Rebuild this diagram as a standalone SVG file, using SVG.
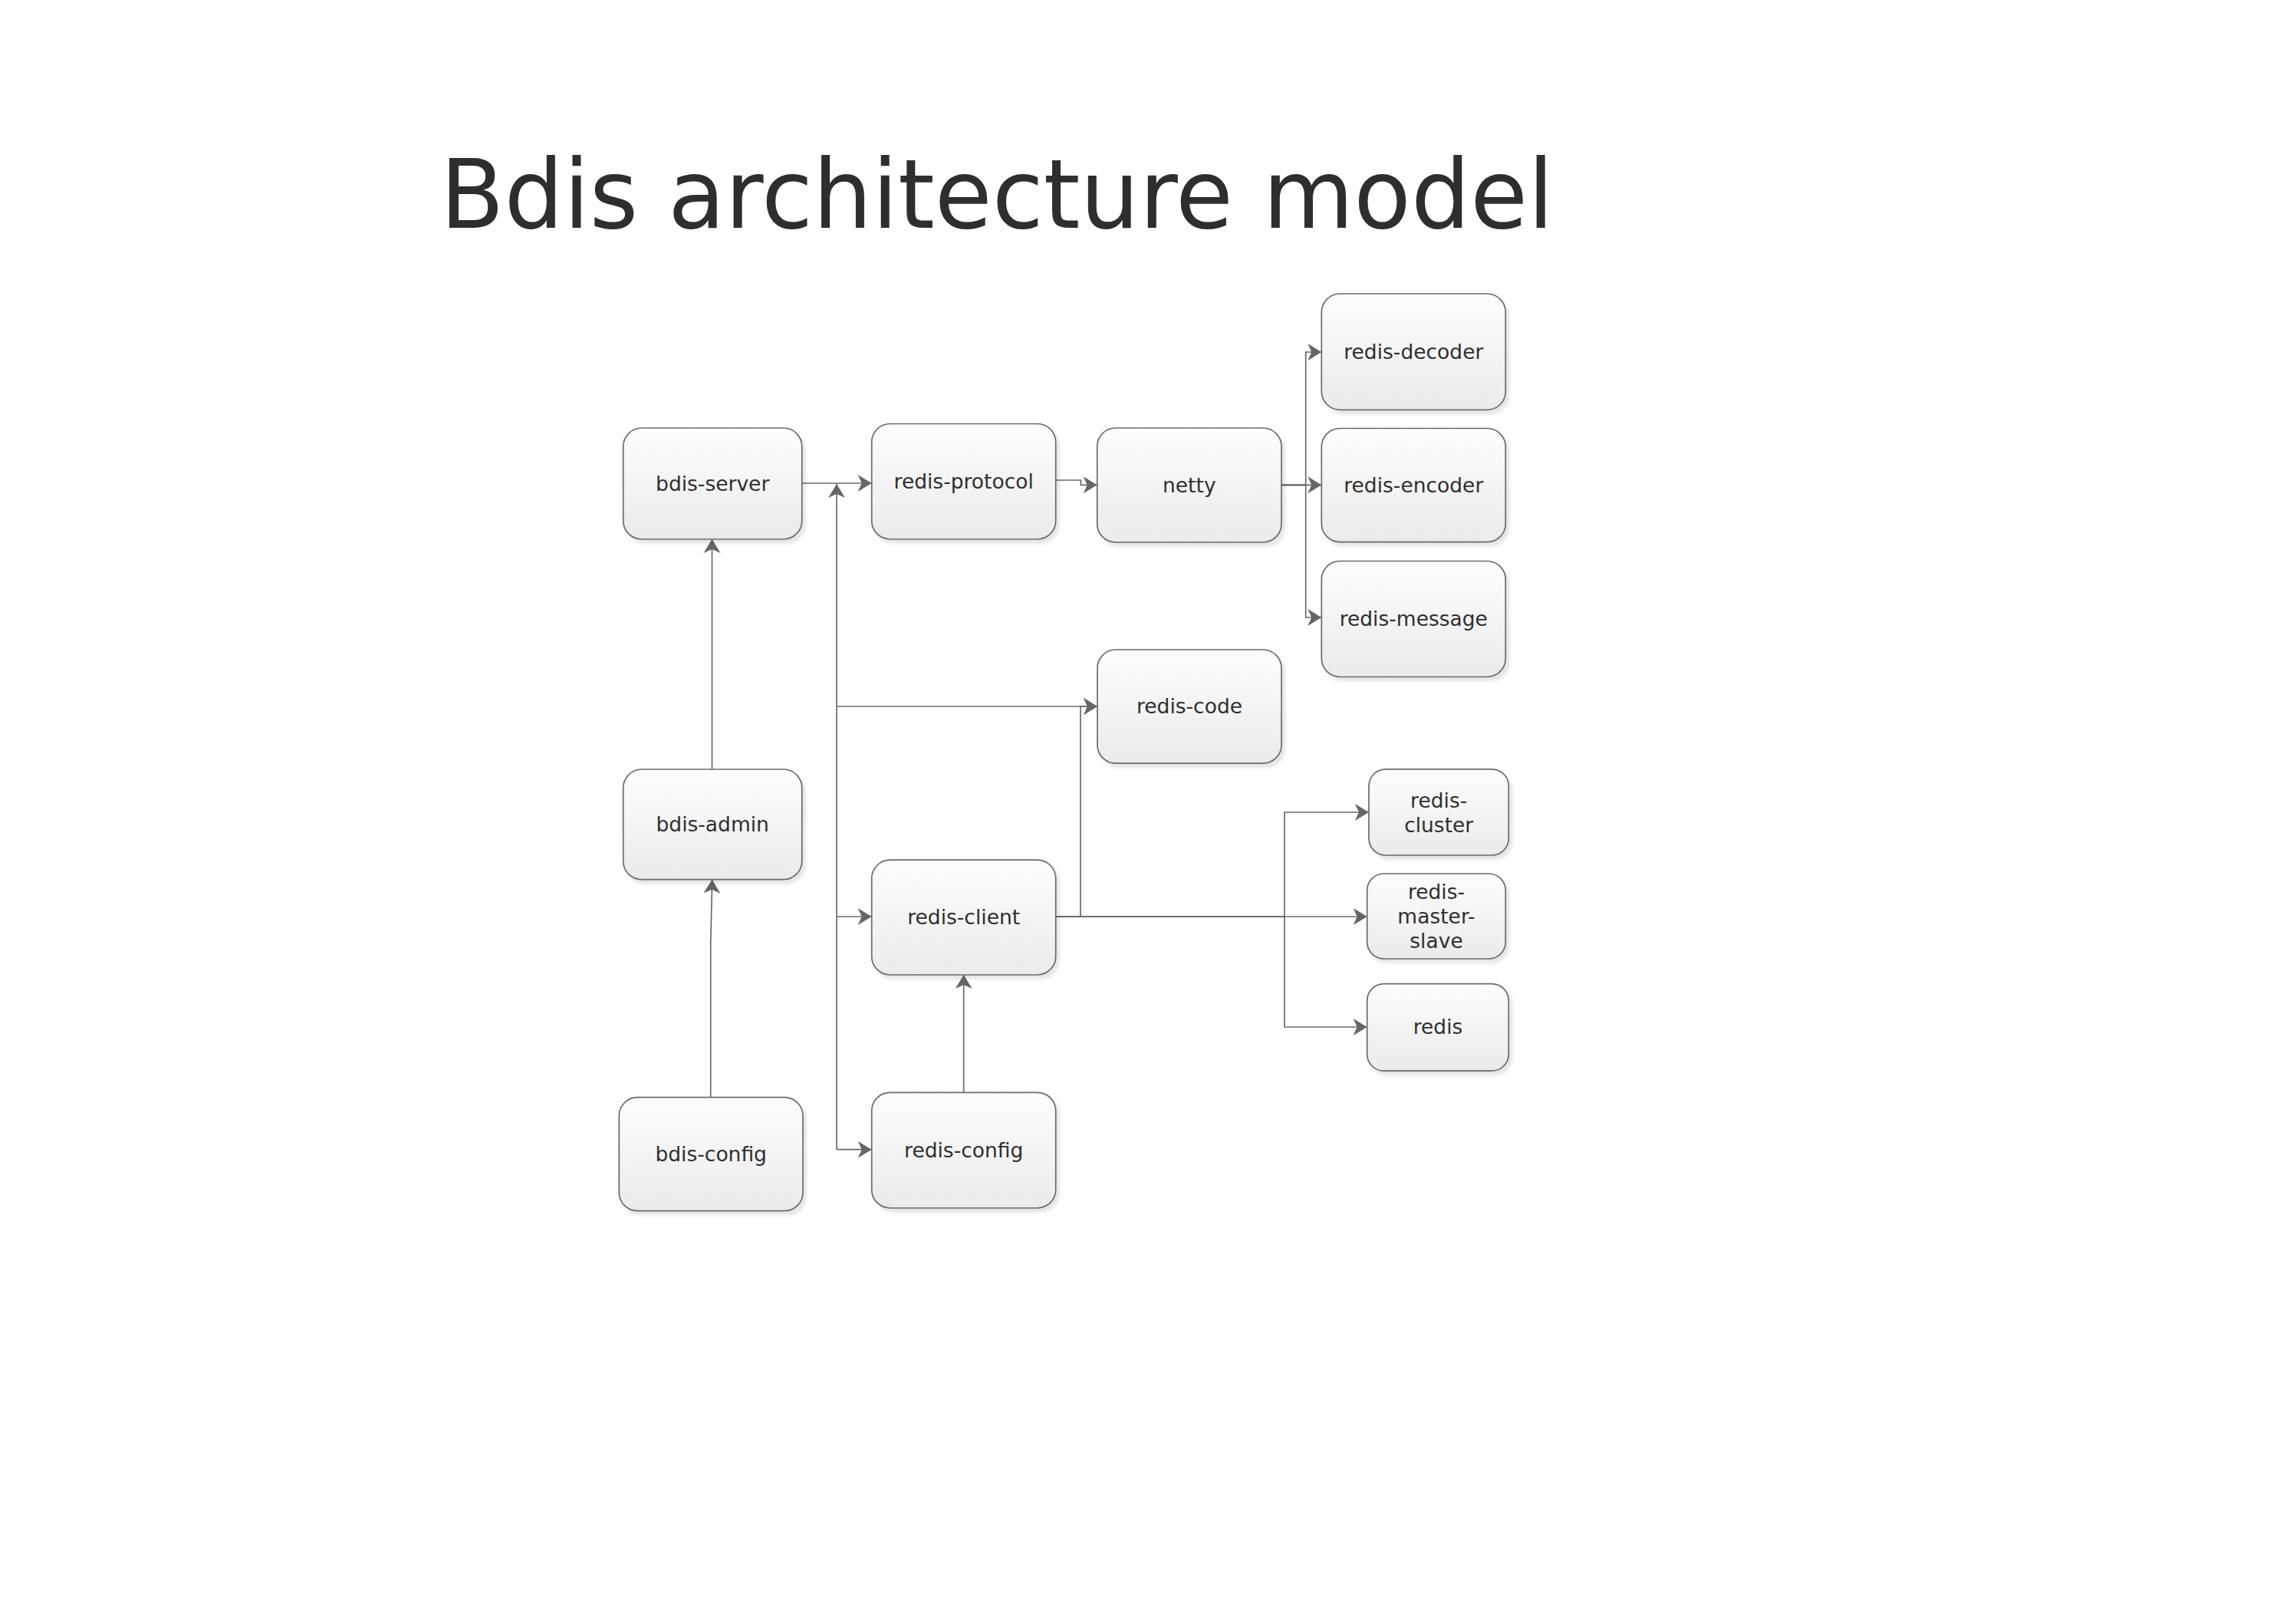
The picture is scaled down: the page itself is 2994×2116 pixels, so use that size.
<svg xmlns="http://www.w3.org/2000/svg" width="2994" height="2116" viewBox="0 0 2994 2116">
<defs>
<linearGradient id="g" x1="0" y1="0" x2="0" y2="1">
<stop offset="0" stop-color="#fdfdfd"/>
<stop offset="1" stop-color="#ebebeb"/>
</linearGradient>
<filter id="sh" x="-10%" y="-10%" width="130%" height="130%">
<feDropShadow dx="4" dy="5" stdDeviation="2" flood-color="#000" flood-opacity="0.10"/>
</filter>
<marker id="ar" markerUnits="userSpaceOnUse" markerWidth="20" markerHeight="24" viewBox="0 -12 20 24" refX="18" refY="0" orient="auto">
<path d="M0,-11 L18,0 L0,11 L5,0 Z" fill="#666"/>
</marker>
<style>
.n rect{fill:url(#g);stroke:#6b6b6b;stroke-width:1.7;filter:url(#sh)}
.n text{font-family:"DejaVu Sans","Liberation Sans",sans-serif;font-size:26.5px;fill:#2f2f2f;text-anchor:middle}
.c path{fill:none;stroke:#6b6b6b;stroke-width:1.7}
.c .a{marker-end:url(#ar)}
.t{font-family:"DejaVu Sans","Open Sans",sans-serif;font-size:125px;fill:#2e2e2e;text-anchor:middle}
</style>
</defs>
<rect width="2994" height="2116" fill="#fff"/>
<text class="t" x="1300" y="297" textLength="1452" lengthAdjust="spacingAndGlyphs">Bdis architecture model</text>

<g id="connectors" class="c">
<path class="a" d="M1045.7,630 L1136.7,630"/>
<path class="a" d="M1091,1498.7 L1091,631"/>
<path class="a" d="M1091,921 L1431,921"/>
<path class="a" d="M1091,1195 L1136.7,1195"/>
<path class="a" d="M1091,1498.7 L1136.7,1498.7"/>
<path class="a" d="M1376.7,1195 L1409,1195 L1409,921 L1431,921"/>
<path class="a" d="M1376.7,1195 L1782.7,1195"/>
<path class="a" d="M1376.7,1195 L1675,1195 L1675,1059 L1785,1059"/>
<path class="a" d="M1376.7,1195 L1675,1195 L1675,1339 L1782.7,1339"/>
<path class="a" d="M1376.7,626 L1409.3,626 L1409.3,632.3 L1430.7,632.3"/>
<path class="a" d="M1671,632.3 L1702.7,632.3 L1702.7,459 L1723.3,459"/>
<path class="a" d="M1671,632.3 L1723.3,632.3"/>
<path class="a" d="M1671,632.3 L1702.7,632.3 L1702.7,805 L1723.3,805"/>
<path class="a" d="M928.5,1003 L928.5,703"/>
<path class="a" d="M926.7,1430.7 L926.7,1230 L928.7,1146.7"/>
<path class="a" d="M1256.7,1424.3 L1256.7,1271"/>
</g>

<g id="bdis-server" class="n"><rect x="812.7" y="558" width="233" height="145" rx="24"/><text x="929.2" y="639.5">bdis-server</text></g>
<g id="redis-protocol" class="n"><rect x="1136.7" y="552.5" width="240" height="150.5" rx="24"/><text x="1256.7" y="636.7">redis-protocol</text></g>
<g id="netty" class="n"><rect x="1430.7" y="558" width="240.3" height="149" rx="24"/><text x="1550.8" y="641.5">netty</text></g>
<g id="redis-decoder" class="n"><rect x="1723.3" y="383" width="240" height="151.3" rx="24"/><text x="1843.3" y="467.6">redis-decoder</text></g>
<g id="redis-encoder" class="n"><rect x="1723.3" y="558.5" width="240" height="148.2" rx="24"/><text x="1843.3" y="641.6">redis-encoder</text></g>
<g id="redis-message" class="n"><rect x="1723.3" y="731.5" width="240" height="151" rx="24"/><text x="1843.3" y="816">redis-message</text></g>
<g id="redis-code" class="n"><rect x="1431" y="847" width="240" height="148.2" rx="24"/><text x="1551" y="930">redis-code</text></g>
<g id="bdis-admin" class="n"><rect x="812.7" y="1003" width="233" height="143.7" rx="24"/><text x="929.2" y="1083.8">bdis-admin</text></g>
<g id="redis-client" class="n"><rect x="1136.7" y="1121.2" width="240" height="149.8" rx="24"/><text x="1256.7" y="1205">redis-client</text></g>
<g id="bdis-config" class="n"><rect x="807.3" y="1430.7" width="239.7" height="148" rx="24"/><text x="927.2" y="1513.7">bdis-config</text></g>
<g id="redis-config" class="n"><rect x="1136.7" y="1424.3" width="240" height="150.7" rx="24"/><text x="1256.7" y="1508.5">redis-config</text></g>
<g id="redis-cluster" class="n"><rect x="1785" y="1002.8" width="182.3" height="112.2" rx="22"/><text x="1876.2" y="1053">redis-</text><text x="1876.2" y="1085">cluster</text></g>
<g id="redis-master-slave" class="n"><rect x="1782.7" y="1139" width="180.6" height="111" rx="22"/><text x="1873" y="1172">redis-</text><text x="1873" y="1204">master-</text><text x="1873" y="1236">slave</text></g>
<g id="redis" class="n"><rect x="1782.7" y="1282.7" width="184.6" height="113.5" rx="22"/><text x="1875" y="1348.4">redis</text></g>
</svg>
